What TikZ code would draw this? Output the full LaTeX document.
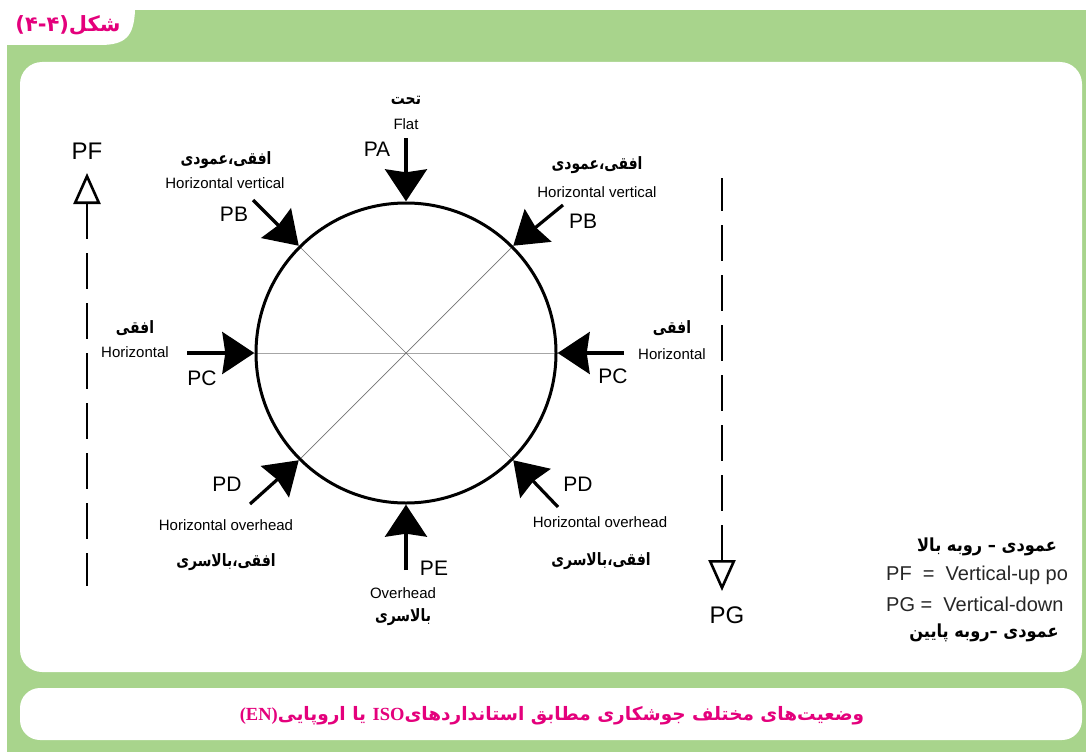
\documentclass[tikz,border=0pt]{standalone}
\usepackage{fontspec}
\setmainfont{Liberation Sans}
\newfontfamily\arfont[Script=Arabic]{DejaVu Sans}
\newfontfamily\serifb{Liberation Serif}
\TeXXeTstate=1
\usetikzlibrary{arrows.meta}
\definecolor{pnlgreen}{HTML}{A8D48C}
\definecolor{mag}{HTML}{E4007C}
\newcommand{\fa}[1]{{\arfont\beginR #1\endR}}
\begin{document}
\begin{tikzpicture}[x=1pt,y=-1pt,
  posarrow/.style={line width=3.2pt,-{Stealth[length=32pt,width=42pt,inset=3pt]}},
  vertarrow/.style={line width=2.6pt,dash pattern=on 36pt off 14pt,{Triangle[open,length=31pt,width=27pt,line width=2.6pt]}-},
  fatxt/.style={font=\fontsize{17}{19}\selectfont\arfont\bfseries,inner sep=0pt,xscale=0.82,transform shape},
  entxt/.style={font=\fontsize{15}{17}\selectfont,inner sep=0pt},
  lbl/.style={font=\fontsize{21}{23}\selectfont,inner sep=0pt},
  biglbl/.style={font=\fontsize{24}{26}\selectfont,inner sep=0pt},
  leg/.style={font=\fontsize{20}{22}\selectfont,inner sep=0pt,text=black!85},
  legfa/.style={font=\fontsize{18}{20}\selectfont\arfont\bfseries,inner sep=0pt,xscale=0.9,transform shape},
  guide/.style={line width=0.7pt,draw=black!55}]
\useasboundingbox (0,0) rectangle (1086,752);
\fill[white] (0,0) rectangle (1086,752);
% green panel
\fill[pnlgreen] (7,10) rectangle (1086,752);
\fill[white] (0,0) -- (135,0) -- (135,10) .. controls (134,36) and (126,45) .. (100,45) -- (0,45) -- cycle;
\node[font=\fontsize{21}{23}\selectfont\arfont\bfseries,text=mag,inner sep=0pt] (title) at (68,25) {\fa{شکل(۴-۴)}};
% inner boxes
\fill[white,rounded corners=22pt] (20,62) rectangle (1082,672);
\fill[white,rounded corners=20pt] (20,688) rectangle (1082,740);
\node[font=\fontsize{18.5}{21}\selectfont\arfont\bfseries,text=mag,inner sep=0pt] (caption) at (552,716)
  {\beginR وضعیت‌های مختلف جوشکاری مطابق استانداردهای\beginL{\serifb\bfseries ISO}\endL\ یا اروپایی\beginL{\serifb\bfseries (EN)}\endL\endR};
% circle
\path node[circle,minimum size=303pt,inner sep=0pt] (C) at (406,353) {};
\draw[guide,draw=black!35] (C.west) -- (C.east);
\draw[guide] (C.north west) -- (C.south east);
\draw[guide] (C.north east) -- (C.south west);
\draw[line width=3pt] (C.center) circle[radius=150pt];
% arrow start points
\coordinate (paS) at (406,138);
\coordinate (pbLS) at (253,200);
\coordinate (pbRS) at (563,205);
\coordinate (pcLS) at (187,353);
\coordinate (pcRS) at (624,353);
\coordinate (pdLS) at (250,504);
\coordinate (pdRS) at (558,507);
\coordinate (peS) at (406,570);
\draw[posarrow] (paS) -- (C.north);
\draw[posarrow] (pbLS) -- (C.north west);
\draw[posarrow] (pbRS) -- (C.north east);
\draw[posarrow] (pcLS) -- (C.west);
\draw[posarrow] (pcRS) -- (C.east);
\draw[posarrow] (pdLS) -- (C.south west);
\draw[posarrow] (pdRS) -- (C.south east);
\draw[posarrow] (peS) -- (C.south);
% labels PA
\node[fatxt] (paFa) at (406,100) {\fa{تحت}};
\node[entxt] (paEn) at (406,124) {Flat};
\node[lbl] (pa) at (377,149) {PA};
% PB left
\node[fatxt] (pbLFa) at (226,160) {\fa{افقی،عمودی}};
\node[entxt] (pbLEn) at (225,183) {Horizontal vertical};
\node[lbl] (pbL) at (234,214) {PB};
% PB right
\node[fatxt] (pbRFa) at (597,165) {\fa{افقی،عمودی}};
\node[entxt] (pbREn) at (597,192) {Horizontal vertical};
\node[lbl] (pbR) at (583,221) {PB};
% PC left
\node[fatxt] (pcLFa) at (135,328) {\fa{افقی}};
\node[entxt] (pcLEn) at (135,352) {Horizontal};
\node[lbl] (pcL) at (202,378) {PC};
% PC right
\node[fatxt] (pcRFa) at (672,328) {\fa{افقی}};
\node[entxt] (pcREn) at (672,354) {Horizontal};
\node[lbl] (pcR) at (613,376) {PC};
% PD left
\node[lbl] (pdL) at (227,484) {PD};
\node[entxt] (pdLEn) at (226,525) {Horizontal overhead};
\node[fatxt] (pdLFa) at (226,562) {\fa{افقی،بالاسری}};
% PD right
\node[lbl] (pdR) at (578,484) {PD};
\node[entxt] (pdREn) at (600,522) {Horizontal overhead};
\node[fatxt] (pdRFa) at (601,561) {\fa{افقی،بالاسری}};
% PE
\node[lbl] (pe) at (434,568) {PE};
\node[entxt] (peEn) at (403,593) {Overhead};
\node[fatxt] (peFa) at (403,617) {\fa{بالاسری}};
% PF
\node[biglbl] (pf) at (87,151) {PF};
\coordinate (pfTip) at (87,173);
\coordinate (pfEnd) at (87,586);
\draw[vertarrow] (pfTip) -- (pfEnd);
% PG
\coordinate (pgTip) at (722,591);
\coordinate (pgEnd) at (722,178);
\draw[vertarrow] (pgTip) -- (pgEnd);
\node[biglbl] (pg) at (727,615) {PG};
% legend
\node[legfa] (leg1) at (987,547) {\fa{عمودی – روبه بالا}};
\node[leg,anchor=west] (leg2) at (886,575) {PF\ \ =\ \ Vertical-up po};
\node[leg,anchor=west] (leg3) at (886,604) {PG =\ \ Vertical-down};
\node[legfa] (leg4) at (984,633) {\fa{عمودی –روبه پایین}};
\end{tikzpicture}
\end{document}
